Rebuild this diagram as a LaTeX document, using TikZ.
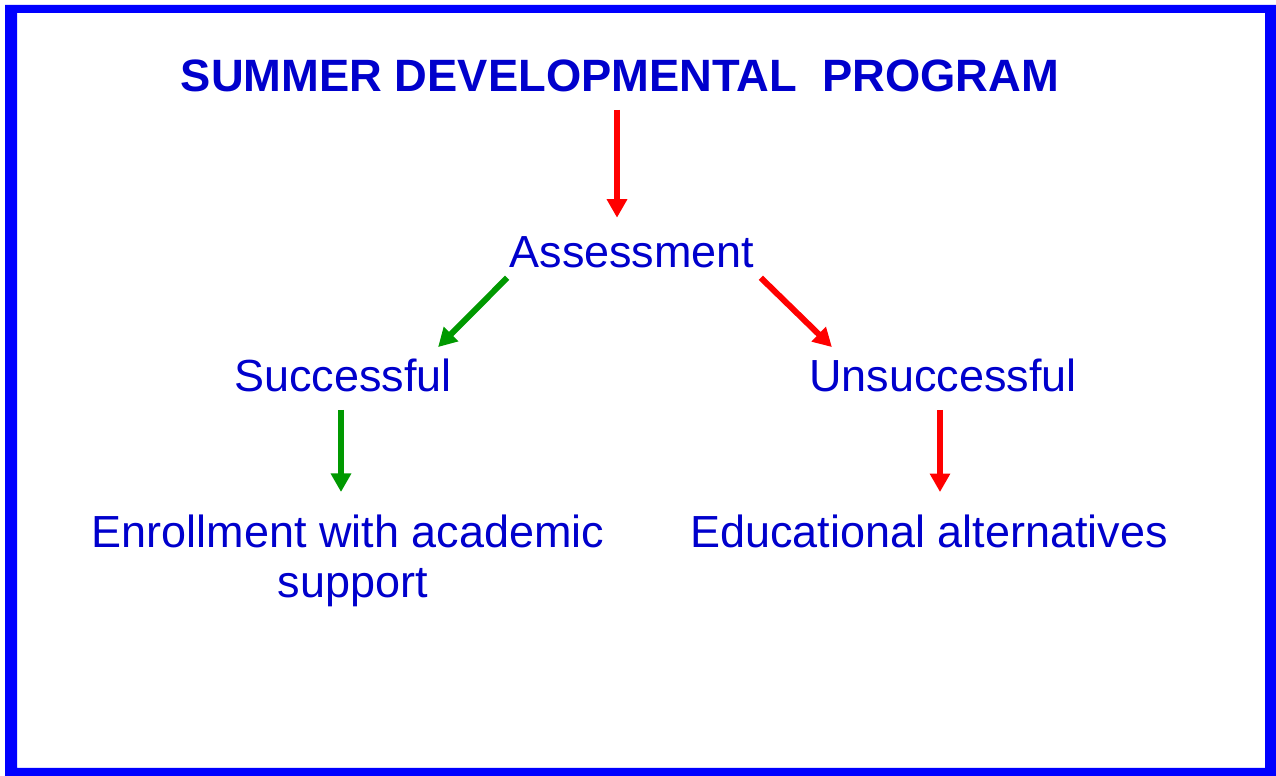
\documentclass[tikz,border=0pt]{standalone}
\usepackage{fontspec}
\setmainfont{Liberation Sans}
\usepackage{tikz}
\usetikzlibrary{arrows.meta, positioning, calc}
\definecolor{textblue}{RGB}{0, 0, 204}
\definecolor{frameblue}{RGB}{0, 0, 255}
\definecolor{goodgreen}{RGB}{0, 153, 0}
\definecolor{badred}{RGB}{255, 0, 0}

\begin{document}
\begin{tikzpicture}[
    x=0.02cm, y=-0.02cm,
    label/.style={text=textblue, inner sep=0pt, anchor=base, align=center, font=\fontsize{25.6}{28.45}\selectfont},
    head/.style={label, font=\fontsize{25.8}{28.45}\selectfont\bfseries},
    goarrow/.style={-{Triangle[length=3.7mm, width=3.9mm]}, line width=1.2mm, goodgreen},
    stoparrow/.style={-{Triangle[length=3.7mm, width=3.9mm]}, line width=1.2mm, badred}
]
    \useasboundingbox (0,0) rectangle (1276,776);
    % Frame
    \fill[frameblue, even odd rule] (5,5) rectangle (1276,776) (17,13) rectangle (1265,768);

    % Nodes
    \node[head] (program) at (620,92) {SUMMER DEVELOPMENTAL \ PROGRAM};
    \node[label] (assess) at (632,268) {Assessment};
    \node[label] (succ) at (343,392) {Successful};
    \node[label] (unsucc) at (943,392) {Unsuccessful};
    \node[label, anchor=north] (enroll) at (348,515) {Enrollment with academic\\\hspace*{0.2cm}support};
    \node[label] (edu) at (929,548) {Educational alternatives};

    % Arrows
    \draw[stoparrow] ($(program.south)+(-3,17)$) -- ($(program.south |- assess.north)+(-3,-19)$);
    \draw[goarrow] ($(assess.south west)+(-2,9)$) -- ($(succ.north east)+(-14,-12)$);
    \draw[stoparrow] ($(assess.south east)+(6,9)$) -- ($(unsucc.north west)+(23,-12)$);
    \draw[goarrow] ($(succ.south)+(-2,17)$) -- ($(succ.south |- enroll.north)+(-2,-23)$);
    \draw[stoparrow] ($(unsucc.south)+(-3,17)$) -- ($(unsucc.south |- edu.north)+(-3,-23)$);
\end{tikzpicture}
\end{document}
